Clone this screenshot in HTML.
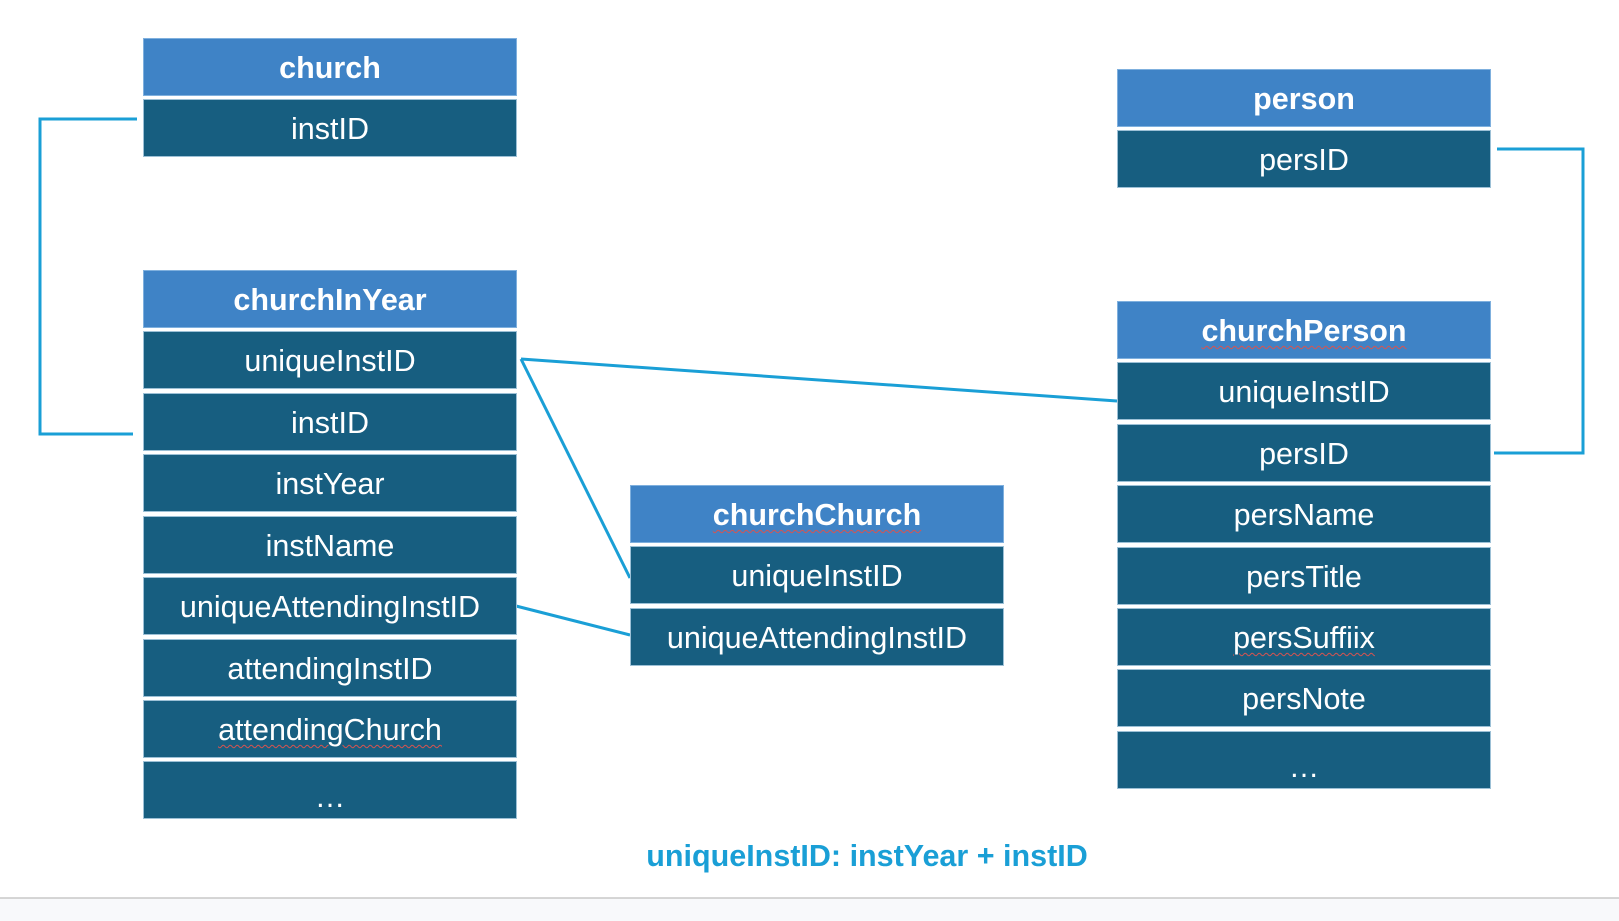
<!DOCTYPE html>
<html><head><meta charset="utf-8"><style>
body{margin:0;width:1619px;height:921px;position:relative;background:#fff;overflow:hidden;font-family:"Liberation Sans",Arial,sans-serif}
.b{position:absolute;display:flex;align-items:center;justify-content:center;color:#fff;font-size:30.5px;box-sizing:border-box;border:1px solid #9cc0d6;padding-top:3px}
.h{background:#3f83c6;font-weight:bold;font-size:30.5px;border-color:#7fb0de}
.r{background:#175e80}
.w{text-decoration:underline wavy #d9534f;text-decoration-thickness:1px;text-underline-offset:4px}
</style></head><body>
<svg width="1619" height="921" style="position:absolute;left:0;top:0">
<g stroke="#1a9fd6" stroke-width="3" fill="none">
<polyline points="137,119 40,119 40,434 133,434"/>
<polyline points="1497,149 1583,149 1583,453 1494,453"/>
<line x1="521" y1="359" x2="1117" y2="401"/>
<line x1="521" y1="359" x2="630" y2="578"/>
<line x1="516" y1="606" x2="630" y2="635"/>
</g>
<rect x="0" y="898" width="1619" height="23" fill="#f8f9fb"/>
<line x1="0" y1="898" x2="1619" y2="898" stroke="#c8c8c8" stroke-width="1.5"/>
</svg>
<div class="b h" style="left:143px;top:38px;width:374px;height:58px">church</div>
<div class="b r" style="left:143px;top:99px;width:374px;height:58px">instID</div>
<div class="b h" style="left:143px;top:270px;width:374px;height:58px">churchInYear</div>
<div class="b r" style="left:143px;top:331px;width:374px;height:58px">uniqueInstID</div>
<div class="b r" style="left:143px;top:393px;width:374px;height:58px">instID</div>
<div class="b r" style="left:143px;top:454px;width:374px;height:58px">instYear</div>
<div class="b r" style="left:143px;top:516px;width:374px;height:58px">instName</div>
<div class="b r" style="left:143px;top:577px;width:374px;height:58px">uniqueAttendingInstID</div>
<div class="b r" style="left:143px;top:639px;width:374px;height:58px">attendingInstID</div>
<div class="b r" style="left:143px;top:700px;width:374px;height:58px"><span class="w">attendingChurch</span></div>
<div class="b r" style="left:143px;top:761px;width:374px;height:58px;padding-top:14px">…</div>
<div class="b h" style="left:630px;top:485px;width:374px;height:58px"><span class="w">churchChurch</span></div>
<div class="b r" style="left:630px;top:546px;width:374px;height:58px">uniqueInstID</div>
<div class="b r" style="left:630px;top:608px;width:374px;height:58px">uniqueAttendingInstID</div>
<div class="b h" style="left:1117px;top:69px;width:374px;height:58px">person</div>
<div class="b r" style="left:1117px;top:130px;width:374px;height:58px">persID</div>
<div class="b h" style="left:1117px;top:301px;width:374px;height:58px"><span class="w">churchPerson</span></div>
<div class="b r" style="left:1117px;top:362px;width:374px;height:58px">uniqueInstID</div>
<div class="b r" style="left:1117px;top:424px;width:374px;height:58px">persID</div>
<div class="b r" style="left:1117px;top:485px;width:374px;height:58px">persName</div>
<div class="b r" style="left:1117px;top:547px;width:374px;height:58px">persTitle</div>
<div class="b r" style="left:1117px;top:608px;width:374px;height:58px"><span class="w">persSuffiix</span></div>
<div class="b r" style="left:1117px;top:669px;width:374px;height:58px">persNote</div>
<div class="b r" style="left:1117px;top:731px;width:374px;height:58px;padding-top:14px">…</div>
<div style="position:absolute;left:517px;width:700px;top:839px;text-align:center;color:#1a9fd6;font-weight:bold;font-size:30.5px">uniqueInstID: instYear + instID</div>
</body></html>
